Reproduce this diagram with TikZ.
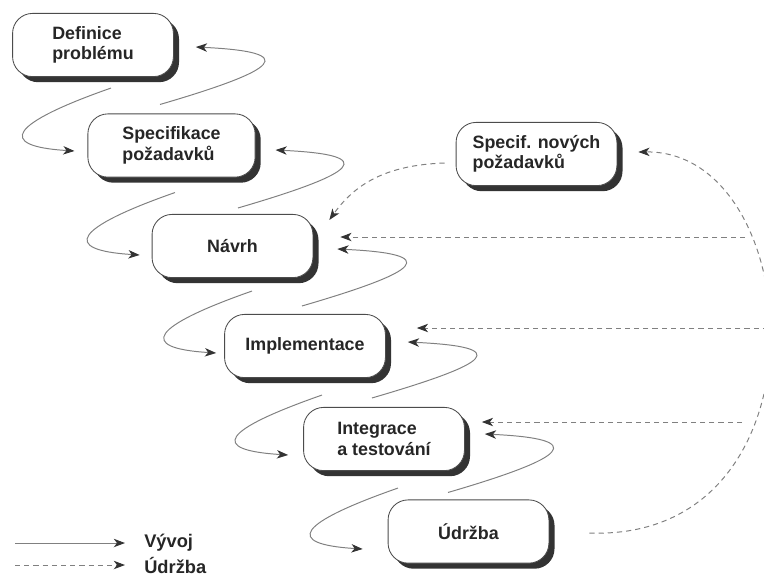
\documentclass[tikz,border=0pt]{standalone}
\usepackage{fontspec}
\setmainfont{Liberation Sans}
\usetikzlibrary{arrows.meta,shadows}

\tikzset{
	faze/.style={draw=black!70, line width=0.6pt, fill=white, rounded corners=0.5cm,
		minimum width=4.02cm, minimum height=1.58cm, align=left, text=black!85,
		font=\fontsize{12.7}{14.5}\selectfont\bfseries,
		drop shadow={shadow xshift=0.14cm, shadow yshift=-0.14cm, fill=black!80, opacity=1}},
	sipka/.style={draw=black!50, line width=0.7pt,
		-{Stealth[length=0.28cm, width=0.21cm, inset=0.08cm, color=black!80]}},
	carkovana/.style={sipka, dash pattern=on 0.13cm off 0.1cm},
	legenda/.style={anchor=west, inner sep=0.1cm, text=black!85,
		font=\fontsize{13}{15}\selectfont\bfseries}
}

\begin{document}
\begin{tikzpicture}[x=0.025cm, y=-0.025cm]
			\useasboundingbox (0,0) rectangle (764,575);
			% Nodes
			\node[faze] (def) at (93,45) {Definice\\problému};
			\node[faze, minimum width=4.18cm] (spec) at (171.5,145.5) {Specifikace\\požadavků};
			\node[faze] (navrh) at (232.5,246) {Návrh};
			\node[faze] (impl) at (305,346) {Implementace};
			\node[faze] (integ) at (384,439) {Integrace\\a testování};
			\node[faze] (udrzba) at (468.5,531.5) {Údržba};
			\node[faze] (nove) at (536.5,154) {Specif. nových\\požadavků};
			% Vyvoj
			\draw[sipka] ([shift={(18,11)}]def.south) .. controls +(-100,35) and +(-80,-5) .. ([shift={(-13,5.5)}]spec.west);
			\draw[sipka] ([shift={(3.5,15)}]spec.south) .. controls +(-100,35) and +(-80,-5) .. ([shift={(-12,9)}]navrh.west);
			\draw[sipka] ([shift={(19.5,13)}]navrh.south) .. controls +(-100,35) and +(-80,-5) .. ([shift={(-8,7)}]impl.west);
			\draw[sipka] ([shift={(17,17)}]impl.south) .. controls +(-100,35) and +(-80,-5) .. ([shift={(-15,16)}]integ.west);
			\draw[sipka] ([shift={(14,17)}]integ.south) .. controls +(-100,35) and +(-80,-5) .. ([shift={(-25,17.5)}]udrzba.west);
			% zpet
			\draw[sipka] ([shift={(-11.5,-9)}]spec.north) .. controls +(120,-35) and +(105,5) .. ([shift={(22,2)}]def.east);
			\draw[sipka] ([shift={(5.5,-6)}]navrh.north) .. controls +(120,-35) and +(105,5) .. ([shift={(20,4.5)}]spec.east);
			\draw[sipka] ([shift={(-3,-8)}]impl.north) .. controls +(120,-35) and +(105,5) .. ([shift={(24,3)}]navrh.east);
			\draw[sipka] ([shift={(-12,-9)}]integ.north) .. controls +(120,-35) and +(105,5) .. ([shift={(22,-4)}]impl.east);
			\draw[sipka] ([shift={(-20.5,-7)}]udrzba.north) .. controls +(120,-35) and +(105,5) .. ([shift={(20,-5)}]integ.east);
			% Udrzba
			\coordinate (m1) at (745,237);
			\coordinate (m2) at (768,328);
			\coordinate (m3) at (742,422);
			\draw[carkovana] ([shift={(40,1.5)}]udrzba.east) .. controls +(245,9) and +(170,-2) .. ([shift={(21,-2)}]nove.east);
			\draw[carkovana] ([shift={(-11,9)}]nove.west) .. controls +(-60,2) and +(25,-35) .. ([shift={(16,6)}]navrh.north east);
			\draw[carkovana] (m1) -- ([shift={(27,-9)}]navrh.east);
			\draw[carkovana] (m2) -- ([shift={(31,-18)}]impl.east);
			\draw[carkovana] (m3) -- ([shift={(17,-17)}]integ.east);
			% Legenda
			\coordinate (l1) at (15,543);
			\coordinate (l2) at (15,565);
			\node[legenda] (lv) at (140,543) {Vývoj};
			\node[legenda] (lu) at (140,565) {Údržba};
			\draw[sipka, shorten >=0.375cm] (l1) -- (lv.west);
			\draw[carkovana, shorten >=0.375cm] (l2) -- (lu.west);
		\end{tikzpicture}
\end{document}
